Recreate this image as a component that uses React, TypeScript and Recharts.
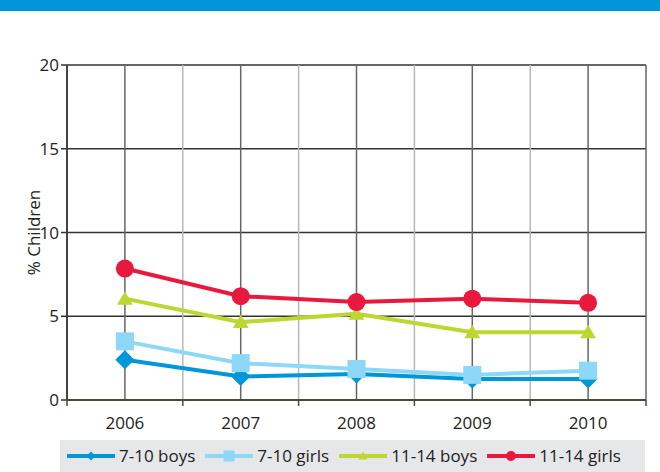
import React from "react";
import { LineChart, Line, XAxis, YAxis, CartesianGrid } from "recharts";

const years = [2006, 2007, 2008, 2009, 2010];
const boundaries = [2006.5, 2007.5, 2008.5, 2009.5];
const allTicks = [2005.5, 2006, 2006.5, 2007, 2007.5, 2008, 2008.5, 2009, 2009.5, 2010, 2010.5];
const yTicks = [0, 5, 10, 15, 20];

const boys710 = [2.4, 1.4, 1.55, 1.25, 1.25];
const girls710 = [3.5, 2.2, 1.85, 1.5, 1.75];
const boys1114 = [6.05, 4.65, 5.15, 4.05, 4.05];
const girls1114 = [7.85, 6.2, 5.85, 6.05, 5.8];

const FONT = "'Open Sans', sans-serif";

const series = [
  { key: "b710", name: "7-10 boys", color: "#0096da", shape: "diamond", values: boys710 },
  { key: "g710", name: "7-10 girls", color: "#8dd7f7", shape: "square", values: girls710 },
  { key: "b1114", name: "11-14 boys", color: "#bdd630", shape: "triangle", values: boys1114 },
  { key: "g1114", name: "11-14 girls", color: "#e8193c", shape: "circle", values: girls1114 },
];

const data = years.map((year, i) => {
  const row: any = { year };
  series.forEach((s) => (row[s.key] = s.values[i]));
  return row;
});

const marker = (shape: string, cx: number, cy: number, r: number, color: string, key?: any) => {
  if (shape === "diamond")
    return <polygon key={key} points={`${cx},${cy - r} ${cx + r},${cy} ${cx},${cy + r} ${cx - r},${cy}`} fill={color} />;
  if (shape === "square")
    return <rect key={key} x={cx - r} y={cy - r} width={r * 2} height={r * 2} fill={color} />;
  if (shape === "triangle")
    return <polygon key={key} points={`${cx},${cy - r} ${cx + r * 1.05},${cy + r * 0.8} ${cx - r * 1.05},${cy + r * 0.8}`} fill={color} />;
  return <circle key={key} cx={cx} cy={cy} r={r} fill={color} />;
};

const sizes: any = { diamond: 9.5, square: 9, triangle: 7.5, circle: 9 };
const legendSizes: any = { diamond: 4.5, square: 5.5, triangle: 4.5, circle: 5 };

const XTick = (props: any) => {
  const { x, y, payload } = props;
  if (Number.isInteger(payload.value)) {
    return (
      <text x={x} y={y + 27} textAnchor="middle" fontSize={17} fontFamily={FONT} fill="#222">
        {payload.value}
      </text>
    );
  }
  return <line x1={x} x2={x} y1={y - 2} y2={y + 4} stroke="#4b4a3a" strokeWidth={1.5} />;
};

export default function App() {
  return (
    <div style={{ position: "absolute", left: 0, top: 0, width: 660, height: 472, background: "#fff", fontFamily: FONT }}>
      <div style={{ position: "absolute", left: 0, top: 0, width: 660, height: 11, background: "#0096da" }} />
      <LineChart width={660} height={472} data={data} margin={{ top: 65, right: 14, bottom: 38, left: 0 }}>
        <CartesianGrid vertical={false} stroke="#333" strokeWidth={1.5} />
        <CartesianGrid horizontal={false} verticalValues={[...years, 2010.5]} stroke="#666" strokeWidth={1.5} />
        <CartesianGrid horizontal={false} verticalValues={boundaries} stroke="#b8b8b8" strokeWidth={1.5} />
        <XAxis
          dataKey="year"
          type="number"
          domain={[2005.5, 2010.5]}
          ticks={allTicks}
          interval={0}
          allowDecimals
          height={34}
          tickSize={0}
          tickLine={false}
          axisLine={{ stroke: "#4b4a3a", strokeWidth: 2 }}
          tick={<XTick />}
        />
        <YAxis
          domain={[0, 20]}
          ticks={yTicks}
          width={67}
          tickSize={6}
          tickLine={{ stroke: "#333", strokeWidth: 1.5 }}
          axisLine={{ stroke: "#444", strokeWidth: 2 }}
          tick={{ fontSize: 17, fontFamily: FONT, fill: "#222" }}
          label={{ value: "% Children", angle: -90, position: "center", dx: 0, style: { fontSize: 17, fontFamily: FONT, fill: "#222" } }}
        />
        {series.map((s) => (
          <Line
            key={s.key}
            dataKey={s.key}
            name={s.name}
            stroke={s.color}
            strokeWidth={4}
            isAnimationActive={false}
            activeDot={false}
            dot={(p: any) => marker(s.shape, p.cx, p.cy, sizes[s.shape], s.color, `${s.key}-${p.index}`)}
          />
        ))}
      </LineChart>
      <div
        style={{
          position: "absolute",
          left: 60,
          top: 440,
          width: 585,
          height: 32,
          background: "#e6e7e9",
          display: "flex",
          alignItems: "center",
          paddingLeft: 7,
          boxSizing: "border-box",
        }}
      >
        {series.map((s) => (
          <div key={s.key} style={{ display: "flex", alignItems: "center", marginRight: 10 }}>
            <svg width={48} height={14}>
              <line x1={0} x2={48} y1={7} y2={7} stroke={s.color} strokeWidth={4} />
              {marker(s.shape, 24, 7, legendSizes[s.shape], s.color)}
            </svg>
            <span style={{ fontSize: 17, color: "#222", marginLeft: 4, lineHeight: "20px" }}>{s.name}</span>
          </div>
        ))}
      </div>
    </div>
  );
}
